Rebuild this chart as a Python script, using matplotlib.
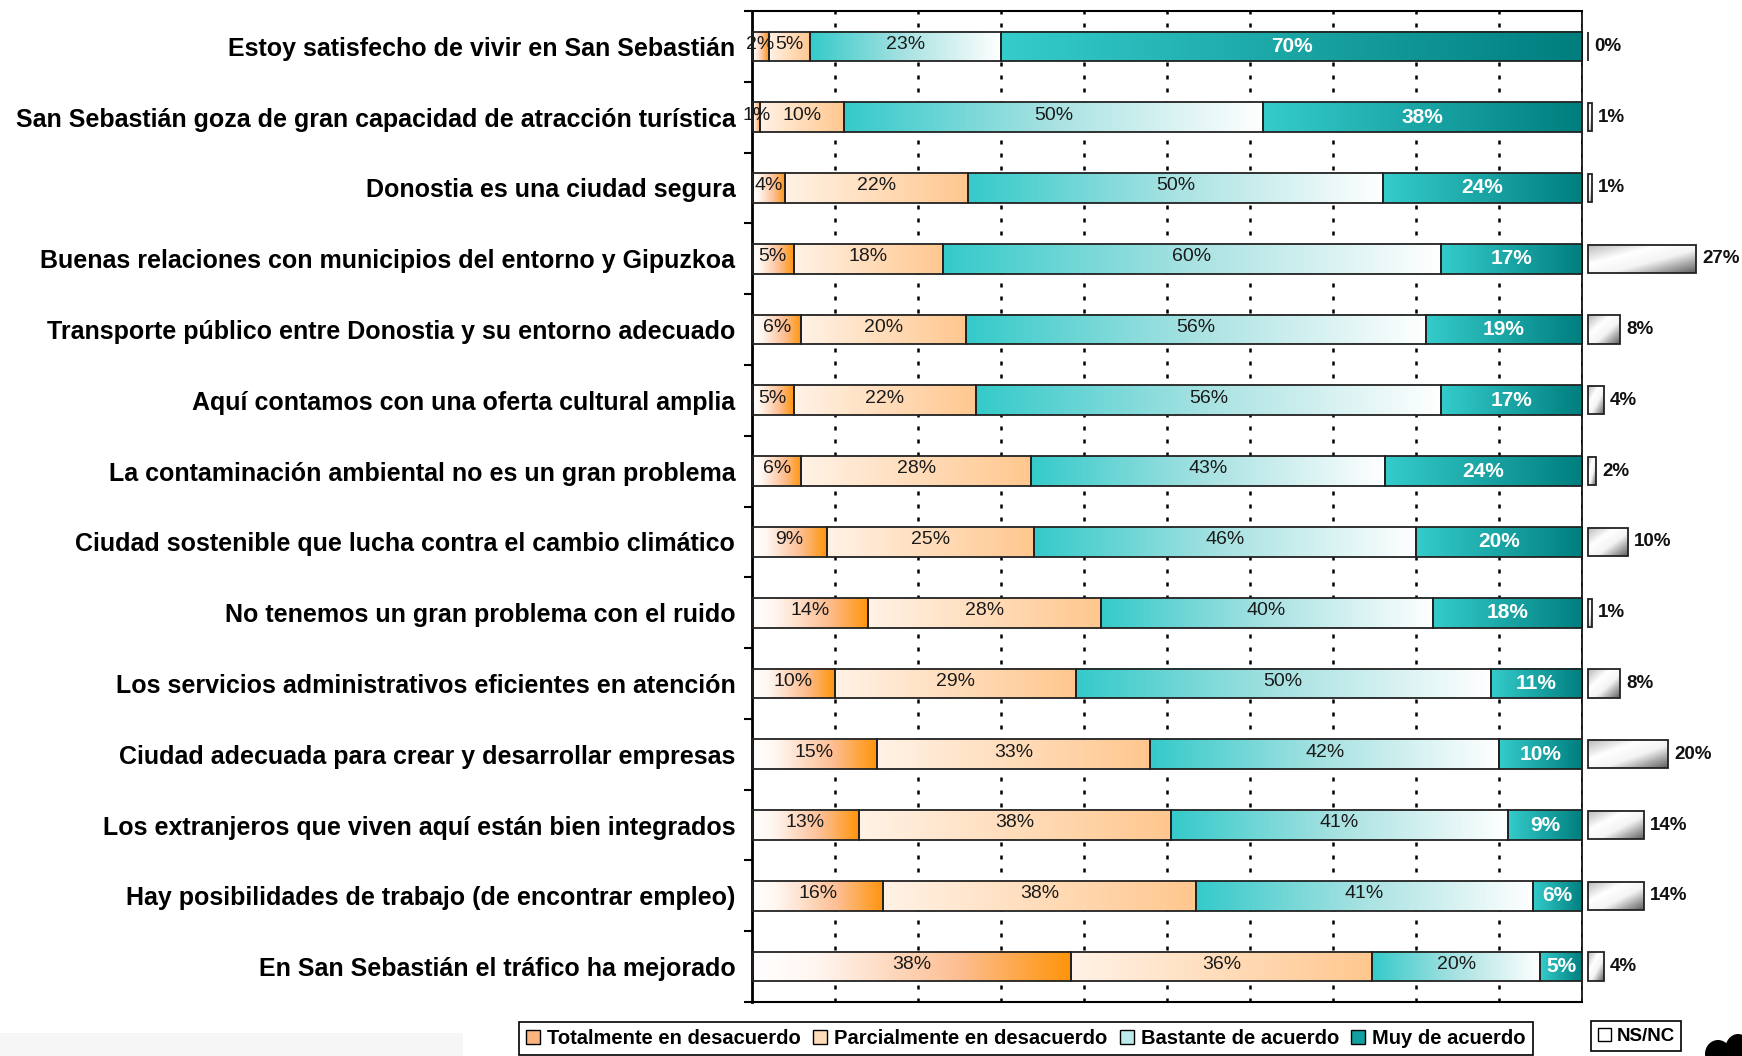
"""
Grado de acuerdo con afirmaciones sobre San Sebastián (barras apiladas 100% + NS/NC)
"""

import matplotlib

matplotlib.use("Agg")
import matplotlib.pyplot as plt
import numpy as np
from matplotlib.colors import LinearSegmentedColormap
from matplotlib.patches import Ellipse, Patch, Rectangle

plt.rcParams["font.family"] = ["Liberation Sans", "DejaVu Sans"]

categories = [
    "Estoy satisfecho de vivir en San Sebastián",
    "San Sebastián goza de gran capacidad de atracción turística",
    "Donostia es una ciudad segura",
    "Buenas relaciones con municipios del entorno y Gipuzkoa",
    "Transporte público entre Donostia y su entorno adecuado",
    "Aquí contamos con una oferta cultural amplia",
    "La contaminación ambiental no es un gran problema",
    "Ciudad sostenible que lucha contra el cambio climático",
    "No tenemos un gran problema con el ruido",
    "Los servicios administrativos eficientes en atención",
    "Ciudad adecuada para crear y desarrollar empresas",
    "Los extranjeros que viven aquí están bien integrados",
    "Hay posibilidades de trabajo (de encontrar empleo)",
    "En San Sebastián el tráfico ha mejorado",
]
totalmente = [2, 1, 4, 5, 6, 5, 6, 9, 14, 10, 15, 13, 16, 38]
parcialmente = [5, 10, 22, 18, 20, 22, 28, 25, 28, 29, 33, 38, 38, 36]
bastante = [23, 50, 50, 60, 56, 56, 43, 46, 40, 50, 42, 41, 41, 20]
muy = [70, 38, 24, 17, 19, 17, 24, 20, 18, 11, 10, 9, 6, 5]
nsnc = [0, 1, 1, 27, 8, 4, 2, 10, 1, 8, 20, 14, 14, 4]

series_names = [
    "Totalmente en desacuerdo",
    "Parcialmente en desacuerdo",
    "Bastante de acuerdo",
    "Muy de acuerdo",
]

cmaps = [
    LinearSegmentedColormap.from_list(
        "tot", [(0, "#FFFFFF"), (0.2, "#FFF6F0"), (0.65, "#FDBE92"), (1, "#FF940A")]
    ),
    LinearSegmentedColormap.from_list("par", [(0, "#FFF2E6"), (1, "#FFC78E")]),
    LinearSegmentedColormap.from_list(
        "bas", [(0, "#35CACA"), (0.5, "#A9E2E2"), (1, "#FFFFFF")]
    ),
    LinearSegmentedColormap.from_list("muy", [(0, "#35CCCC"), (1, "#007E7E")]),
]
cmap_ns = LinearSegmentedColormap.from_list(
    "ns", [(0, "#B8B8B8"), (0.35, "#FFFFFF"), (0.6, "#F4F4F4"), (1, "#5E5E5E")]
)
legend_colors = ["#FDB57F", "#FFDDB8", "#BDEBEB", "#13A0A0"]

W, H = 1742, 1056
fig = plt.figure(figsize=(W / 100, H / 100), dpi=100)
ax = fig.add_axes([752 / W, 1 - 1002 / H, 830 / W, 991 / H])
ax2 = fig.add_axes([1582 / W, 1 - 1002 / H, 160 / W, 991 / H])

y = np.arange(len(categories))
raw = np.array([totalmente, parcialmente, bastante, muy], dtype=float)
shares = raw / raw.sum(axis=0) * 100
left = np.zeros(len(categories))
grad = np.linspace(0, 1, 256).reshape(1, -1)

for k in range(4):
    bars = ax.barh(
        y, shares[k], left=left, height=0.42, facecolor="none",
        edgecolor="#222222", linewidth=1.3, zorder=3,
    )
    for bar, lab in zip(bars, raw[k]):
        x0, y0 = bar.get_x(), bar.get_y()
        w, h = bar.get_width(), bar.get_height()
        ax.imshow(
            grad, cmap=cmaps[k], extent=[x0, x0 + w, y0 + h, y0],
            aspect="auto", zorder=2, interpolation="bilinear",
        )
        if k == 3:
            ax.text(x0 + w / 2, y0 + h / 2, f"{int(lab)}%", ha="center",
                    va="center", color="white", fontsize=15, fontweight="bold",
                    zorder=4)
        else:
            ax.text(x0 + w / 2, y0 + h / 2 - 0.03, f"{int(lab)}%", ha="center",
                    va="center", color="#1a1a1a", fontsize=14, zorder=4)
    left = left + shares[k]

for xv in range(10, 101, 10):
    ax.axvline(xv, color="black", lw=1.8, ls=(0, (1.6, 3.6)), zorder=1)

ax.set_xlim(0, 100)
ax.set_ylim(13.5, -0.5)
ax.set_xticks([])
ax.set_yticks(y)
ax.set_yticklabels(categories, fontsize=18, fontweight="bold")
ax.set_yticks(np.arange(-0.5, 14, 1), minor=True)
ax.tick_params(axis="y", which="major", length=0, pad=12)
ax.tick_params(axis="y", which="minor", length=6, width=1.5, direction="out")
ax.spines["left"].set_linewidth(2)
ax.spines["top"].set_linewidth(1.5)
ax.spines["bottom"].set_linewidth(1.5)
ax.spines["right"].set_linewidth(1.2)

# NS/NC a la derecha
xx, yy = np.meshgrid(np.linspace(0, 1, 64), np.linspace(0, 1, 64))
diag = (xx + yy) / 2
ns_bars = ax2.barh(y, nsnc, height=0.4, facecolor="none", edgecolor="#222222",
                   linewidth=1.3, zorder=3)
for bar, v in zip(ns_bars, nsnc):
    x0, y0 = bar.get_x(), bar.get_y()
    w, h = bar.get_width(), bar.get_height()
    if w > 0:
        ax2.imshow(diag, cmap=cmap_ns, extent=[x0, x0 + w, y0 + h, y0],
                   aspect="auto", zorder=2, interpolation="bilinear")
    ax2.text(x0 + w + 1.5, y0 + h / 2, f"{v}%", ha="left", va="center",
             fontsize=13.5, fontweight="bold", color="#111111")
ax2.set_xlim(-1.5, 38.5)
ax2.set_ylim(13.5, -0.5)
ax2.axis("off")

handles = [Patch(facecolor=c, edgecolor="black", linewidth=1) for c in legend_colors]
leg = fig.legend(
    handles, series_names, loc="upper left",
    bbox_to_anchor=(519 / W, 1 - 1022 / H), ncol=4, frameon=True,
    fancybox=False, edgecolor="black", framealpha=1,
    prop={"weight": "bold", "size": 14.5}, handlelength=0.7,
    handleheight=0.7, handletextpad=0.35, columnspacing=0.6,
    borderpad=0.35, borderaxespad=0,
)
leg.get_frame().set_linewidth(1.2)

leg2 = fig.legend(
    [Patch(facecolor="white", edgecolor="black", linewidth=1)], ["NS/NC"],
    loc="upper left", bbox_to_anchor=(1591 / W, 1 - 1021 / H), frameon=True,
    fancybox=False, edgecolor="black", framealpha=1,
    prop={"weight": "bold", "size": 13.5}, handlelength=0.7,
    handleheight=0.7, handletextpad=0.3, borderpad=0.35, borderaxespad=0,
)
leg2.get_frame().set_linewidth(1.2)

fig.patches.append(Rectangle((0, 0), 463 / W, 23 / H, transform=fig.transFigure,
                             facecolor="#F6F6F6", edgecolor="none", zorder=0))
fig.patches.append(Ellipse((1718 / W, 2 / H), 26 / W, 28 / H,
                           transform=fig.transFigure, facecolor="black", zorder=5))
fig.patches.append(Ellipse((1738 / W, 6 / H), 26 / W, 32 / H,
                           transform=fig.transFigure, facecolor="black", zorder=5))

fig.savefig("out.png", dpi=100)
